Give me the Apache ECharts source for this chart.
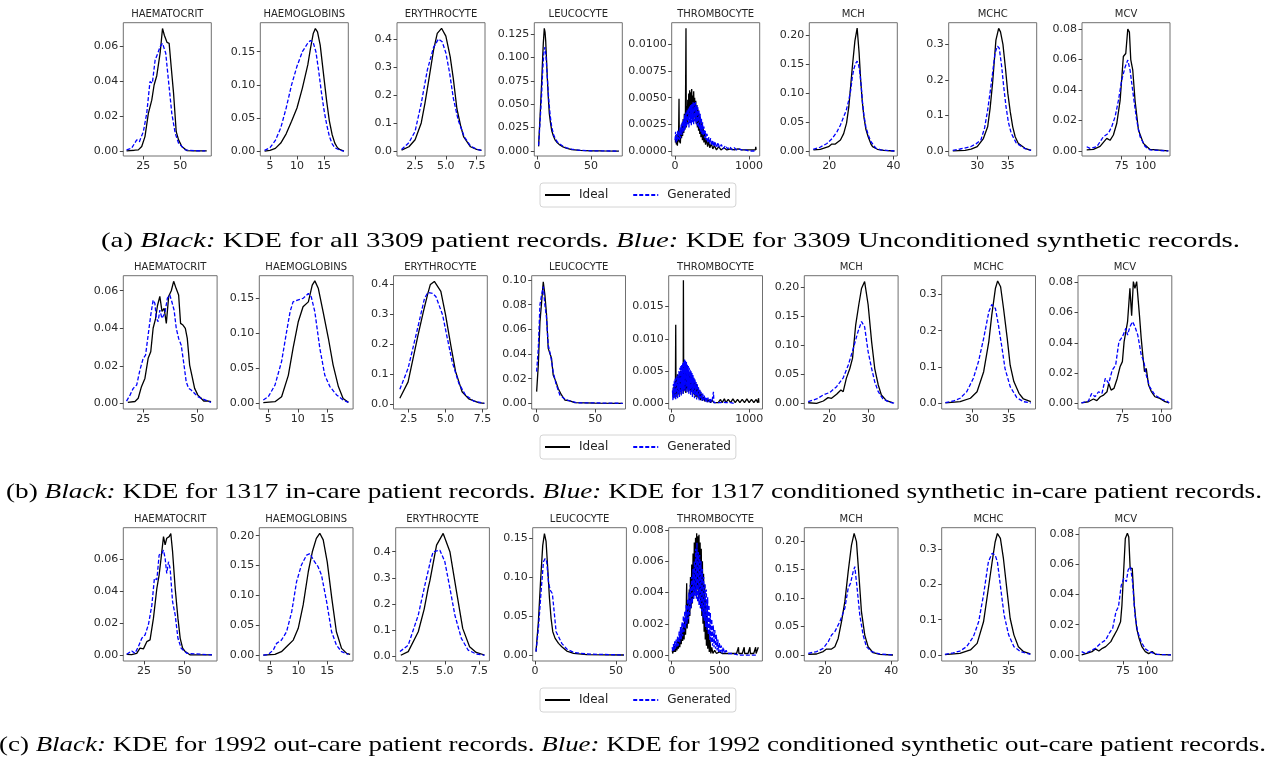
<!DOCTYPE html>
<html>
<head>
<meta charset="utf-8">
<script src="https://cdn.jsdelivr.net/npm/echarts@6/dist/echarts.min.js"></script>
<style>html,body{margin:0;padding:0;background:#fff}#chart{width:1278px;height:757px}</style>
</head>
<body>
<div id="chart"></div>
<script>
// ---------------- DATA ----------------
const titles = ['HAEMATOCRIT','HAEMOGLOBINS','ERYTHROCYTE','LEUCOCYTE','THROMBOCYTE','MCH','MCHC','MCV'];
const seriesNames = ['Ideal','Generated'];
const captionTexts = [
  [['(a) ',0],['Black:',1],[' KDE for all 3309 patient records. ',0],['Blue:',1],[' KDE for 3309 Unconditioned synthetic records.',0]],
  [['(b) ',0],['Black:',1],[' KDE for 1317 in-care patient records. ',0],['Blue:',1],[' KDE for 1317 conditioned synthetic in-care patient records.',0]],
  [['(c) ',0],['Black:',1],[' KDE for 1992 out-care patient records. ',0],['Blue:',1],[' KDE for 1992 conditioned synthetic out-care patient records.',0]]
];
// tick labels per panel
const xTickLabels = [
  [['25','50'],['5','10','15'],['2.5','5.0','7.5'],['0','50'],['0','1000'],['20','40'],['30','35'],['75','100']],
  [['25','50'],['5','10','15'],['2.5','5.0','7.5'],['0','50'],['0','1000'],['20','30'],['30','35'],['75','100']],
  [['25','50'],['5','10','15'],['2.5','5.0','7.5'],['0','50'],['0','500'],['20','40'],['30','35'],['75','100']]
];
const yTickLabels = [
  [['0.00','0.02','0.04','0.06'],['0.00','0.05','0.10','0.15'],['0.0','0.1','0.2','0.3','0.4'],['0.000','0.025','0.050','0.075','0.100','0.125'],['0.0000','0.0025','0.0050','0.0075','0.0100'],['0.00','0.05','0.10','0.15','0.20'],['0.0','0.1','0.2','0.3'],['0.00','0.02','0.04','0.06','0.08']],
  [['0.00','0.02','0.04','0.06'],['0.00','0.05','0.10','0.15'],['0.0','0.1','0.2','0.3','0.4'],['0.00','0.02','0.04','0.06','0.08','0.10'],['0.000','0.005','0.010','0.015'],['0.00','0.05','0.10','0.15','0.20'],['0.0','0.1','0.2','0.3'],['0.00','0.02','0.04','0.06','0.08']],
  [['0.00','0.02','0.04','0.06'],['0.00','0.05','0.10','0.15','0.20'],['0.0','0.1','0.2','0.3','0.4'],['0.00','0.05','0.10','0.15'],['0.000','0.002','0.004','0.006','0.008'],['0.00','0.05','0.10','0.15','0.20'],['0.0','0.1','0.2','0.3'],['0.00','0.02','0.04','0.06','0.08']]
];
// axis extents [xMin, xMax, yMin, yMax]
const axisExtents = [
  [[11.4,71.1,-0.0029,0.0733],[3.21,19.5,-0.0075,0.1938],[1.03,8.18,-0.018,0.458],[-2.8,79.2,-0.0053,0.1371],[-44.8,1143,-0.00047,0.01203],[13.8,41.2,-0.0086,0.2213],[25.33,39.72,-0.0141,0.3609],[33.6,125.3,-0.0033,0.0842]],
  [[15.8,59.2,-0.003,0.068],[3.47,19.4,-0.0081,0.1824],[1.47,7.83,-0.0156,0.429],[-3.6,75.4,-0.0046,0.1035],[-38.8,1172,-0.00088,0.0198],[13.6,37.7,-0.0098,0.2201],[25.9,38.64,-0.0156,0.3514],[46.7,106.5,-0.0037,0.0844]],
  [[12.2,70,-0.0038,0.0796],[3.14,19.5,-0.01,0.2134],[1.43,8.24,-0.019,0.492],[-1.45,56.4,-0.0077,0.1637],[-31.5,951,-0.00038,0.00815],[13.8,42,-0.0105,0.2234],[26.07,38.57,-0.017,0.3604],[30.6,125.3,-0.004,0.0842]]
];

// ---- Row (a) ----
const a1Ideal=[[13.6,0],[16,0.0002],[19,0.0004],[21.6,0.0006],[23.9,0.0025],[26.1,0.0082],[28.4,0.0215],[30.7,0.029],[32.3,0.0377],[33,0.037],[34.1,0.043],[36.4,0.056],[38,0.070],[39.3,0.066],[40.2,0.067],[41.1,0.062],[42.5,0.0615],[43.9,0.048],[45.5,0.033],[47.3,0.011],[48.9,0.0063],[51.1,0.0025],[54.5,0.0002],[60,0],[68,0]];
const a1Gen=[[13.6,0.0006],[17,0.0015],[20.5,0.0063],[22.3,0.0053],[25,0.011],[27.3,0.0215],[29.5,0.0396],[31.1,0.0387],[33,0.052],[34.8,0.0558],[36.4,0.0596],[38,0.0615],[39.3,0.0606],[40.2,0.0558],[42,0.0406],[44.3,0.0215],[46.6,0.0101],[48.9,0.0044],[53.4,0.0006],[60,0.0001],[67,0]];
const a2Ideal=[[4,0],[5,0.001],[6,0.004],[7,0.012],[8,0.026],[9,0.045],[10,0.065],[11,0.095],[12,0.13],[12.5,0.155],[13,0.177],[13.4,0.185],[13.8,0.18],[14.3,0.16],[15,0.11],[15.5,0.075],[16,0.045],[16.5,0.025],[17,0.012],[17.5,0.005],[18,0.002],[18.7,0]];
const a2Gen=[[4,0.001],[5,0.005],[6,0.016],[7,0.035],[8,0.065],[9,0.1],[10,0.128],[11,0.15],[12,0.163],[12.5,0.167],[13,0.164],[13.5,0.15],[14,0.122],[14.5,0.09],[15,0.062],[15.5,0.04],[16,0.022],[16.5,0.011],[17,0.005],[18,0.001],[18.7,0]];
const a3Ideal=[[1.4,0.003],[2,0.015],[2.5,0.04],[3,0.1],[3.3,0.17],[3.6,0.25],[4,0.36],[4.3,0.42],[4.65,0.438],[5,0.41],[5.35,0.337],[5.6,0.26],[5.9,0.15],[6.2,0.09],[6.45,0.05],[7,0.015],[7.5,0.006],[7.9,0.002]];
const a3Gen=[[1.4,0.005],[2,0.03],[2.5,0.07],[3,0.17],[3.5,0.29],[4,0.37],[4.4,0.40],[4.7,0.39],[5,0.35],[5.3,0.28],[5.6,0.19],[6,0.11],[6.5,0.05],[7,0.018],[7.5,0.006],[7.9,0.002]];
const a4Ideal=[[1.2,0.005],[2.5,0.035],[4,0.072],[5,0.1],[5.6,0.115],[6.5,0.131],[7.2,0.127],[7.8,0.118],[8.5,0.1],[9.3,0.079],[10.2,0.058],[11.2,0.04],[12.3,0.03],[13.4,0.022],[15,0.016],[16.5,0.012],[18.5,0.009],[21,0.0064],[24,0.0045],[27,0.003],[32,0.0015],[40,0.0007],[50,0.0002],[60,0.0001],[76,0]];
const a4Gen=[[1.2,0.006],[2.5,0.03],[4,0.06],[5,0.085],[6,0.104],[7.1,0.111],[8,0.103],[9,0.085],[10,0.066],[11,0.05],[12,0.038],[13.4,0.026],[15,0.018],[16.5,0.014],[18.5,0.01],[21,0.0075],[24,0.005],[27,0.0035],[32,0.002],[40,0.0008],[50,0.0003],[60,0.0001],[76,0]];
const a5Ideal=[[5,0.0008],[12,0.0015],[18,0.0006],[25,0.0012],[32,0.0005],[40,0.0018],[47,0.0009],[54,0.0049],[58,0.0008],[65,0.0016],[72,0.0007],[80,0.0021],[88,0.0012],[95,0.0026],[102,0.0014],[110,0.003],[118,0.0017],[126,0.0035],[134,0.002],[141,0.0038],[148,0.0115],[152,0.0022],[158,0.0042],[165,0.0025],[172,0.0048],[178,0.003],[185,0.0054],[192,0.0033],[198,0.0057],[205,0.0036],[212,0.0055],[218,0.0032],[225,0.0058],[232,0.0038],[238,0.0052],[245,0.003],[252,0.0056],[258,0.0035],[265,0.005],[272,0.0028],[280,0.0047],[288,0.0025],[295,0.0043],[302,0.0022],[310,0.0039],[318,0.0019],[326,0.0035],[334,0.0016],[342,0.003],[350,0.0013],[360,0.0026],[370,0.001],[380,0.0021],[390,0.0008],[400,0.0016],[412,0.0006],[425,0.0012],[440,0.0004],[455,0.0009],[470,0.0003],[490,0.0007],[510,0.0002],[530,0.0005],[560,0.0001],[590,0.0004],[620,0.0001],[660,0.0003],[700,0.0001],[750,0.0002],[800,0.0001],[850,0.0002],[900,0.0001],[950,0.0001],[1000,0.0001],[1050,0.0001],[1085,0.0001],[1090,0.0004],[1095,0.0001]];
const a5Gen=[[0,0.001],[8,0.0018],[15,0.0008],[22,0.0016],[30,0.0009],[38,0.002],[45,0.0011],[52,0.0019],[60,0.001],[68,0.0022],[76,0.0012],[84,0.0025],[92,0.0015],[100,0.0028],[108,0.0017],[116,0.003],[124,0.0019],[132,0.0034],[140,0.0021],[148,0.0036],[156,0.0023],[164,0.0039],[172,0.0025],[180,0.004],[188,0.0022],[196,0.0042],[204,0.0026],[212,0.0043],[220,0.0024],[228,0.0044],[236,0.0027],[244,0.0046],[252,0.0025],[260,0.0045],[268,0.0028],[276,0.0046],[284,0.0026],[292,0.0043],[300,0.0024],[308,0.0041],[316,0.0022],[324,0.0038],[332,0.002],[340,0.0035],[348,0.0018],[356,0.0031],[364,0.0016],[372,0.0027],[380,0.0014],[390,0.0023],[400,0.0012],[410,0.0019],[420,0.001],[432,0.0016],[444,0.0008],[456,0.0013],[468,0.0007],[480,0.0012],[495,0.0005],[510,0.001],[525,0.0004],[540,0.0009],[560,0.0003],[580,0.0008],[600,0.0003],[625,0.0006],[650,0.0002],[680,0.0005],[710,0.0002],[740,0.0004],[770,0.0001],[800,0.0003],[830,0.0001],[860,0.0002],[900,0.0001],[950,0.0001],[1000,0],[1050,0],[1100,0]];
const a6Ideal=[[15.1,0.002],[17.2,0.003],[19.8,0.0075],[20.8,0.012],[21.9,0.012],[23.5,0.019],[24.5,0.03],[25.4,0.048],[26.1,0.076],[27.2,0.145],[28,0.19],[28.7,0.212],[29.3,0.17],[29.8,0.122],[30.3,0.085],[30.8,0.059],[31.4,0.038],[32.1,0.025],[33,0.012],[33.5,0.0075],[35,0.003],[37,0.001],[40.3,0]];
const a6Gen=[[15,0.003],[17,0.006],[19.3,0.013],[21,0.022],[22.4,0.033],[23.5,0.045],[24.5,0.059],[25.3,0.07],[26.1,0.088],[26.7,0.105],[27.2,0.128],[27.7,0.142],[28.2,0.151],[28.7,0.155],[29.1,0.15],[29.5,0.137],[30,0.11],[30.3,0.088],[30.8,0.062],[31.4,0.042],[32.2,0.027],[33,0.016],[34.5,0.005],[36,0.002],[40.3,0]];
const a7Ideal=[[26,0.0005],[28,0.002],[29,0.005],[30,0.012],[31,0.035],[31.7,0.068],[32.1,0.12],[32.5,0.19],[33.05,0.312],[33.5,0.345],[33.8,0.335],[34.2,0.30],[34.6,0.235],[35,0.162],[35.4,0.11],[35.8,0.068],[36.2,0.04],[36.7,0.0216],[37.8,0.0075],[38.8,0.002]];
const a7Gen=[[26,0.002],[27.2,0.0056],[28.9,0.012],[29.8,0.02],[30.6,0.031],[31.2,0.065],[31.7,0.115],[32.1,0.165],[32.5,0.218],[32.9,0.275],[33.3,0.295],[33.6,0.289],[34,0.237],[34.3,0.185],[34.7,0.125],[35.1,0.08],[35.55,0.05],[36.4,0.0216],[37.8,0.0066],[38.8,0.002]];
const a8Ideal=[[38.5,0.0007],[45.5,0.001],[52.4,0.003],[59.4,0.0083],[62.8,0.007],[66.3,0.0105],[69.8,0.018],[73.3,0.033],[76.7,0.062],[79.2,0.064],[81.3,0.08],[83,0.078],[84.4,0.06],[86.5,0.053],[88.9,0.033],[92.4,0.0138],[97.6,0.005],[104.5,0.001],[123.6,0]];
const a8Gen=[[38.5,0.0028],[42,0.0017],[49,0.0028],[55.9,0.0094],[61.1,0.0116],[64.6,0.016],[68.1,0.0225],[71.5,0.033],[75,0.0466],[78.5,0.055],[81.3,0.0597],[83.7,0.053],[85.4,0.052],[87.8,0.033],[90.6,0.02],[94.1,0.0094],[99.3,0.003],[104.5,0.0007],[123.6,0]];

// ---- Row (b) ----
const b1Ideal=[[17.9,0.0005],[21.2,0.001],[22.7,0.0027],[24.2,0.0089],[25.8,0.0133],[27.3,0.024],[28.5,0.0275],[29.6,0.04],[30.7,0.045],[31.6,0.052],[32.7,0.057],[33.7,0.049],[34.7,0.0506],[35.7,0.0426],[36.8,0.057],[38,0.06],[39.1,0.065],[40.3,0.061],[41.4,0.0577],[42.3,0.0426],[43.4,0.0417],[44.5,0.04],[45.4,0.0346],[46.5,0.0204],[47.5,0.015],[48.8,0.008],[50.3,0.0044],[51.8,0.0027],[53,0.0012],[54.1,0.0014],[54.9,0.0009],[56.4,0.0009]];
const b1Gen=[[17.3,0.0012],[18.9,0.0044],[20.4,0.008],[22,0.0098],[23.5,0.0178],[25,0.024],[26.1,0.0257],[27.3,0.0364],[28.5,0.047],[29.6,0.055],[30.4,0.0533],[31.1,0.0453],[31.9,0.0435],[32.7,0.0497],[33.7,0.0453],[35,0.048],[36.2,0.056],[37.3,0.0577],[38.3,0.054],[39.3,0.0497],[40.3,0.04],[41.4,0.0346],[42.6,0.031],[43.9,0.0204],[44.9,0.0115],[46,0.008],[47.2,0.0071],[48.8,0.0053],[50.3,0.0036],[52.6,0.0023],[54.9,0.0012],[56.4,0.0005]];
const b2Ideal=[[4.15,0.001],[6.13,0.0024],[7.26,0.0095],[8.4,0.04],[9.2,0.0786],[10.1,0.117],[10.9,0.138],[11.8,0.145],[12.46,0.169],[12.9,0.175],[13.5,0.164],[14.3,0.131],[15.2,0.093],[16,0.055],[16.9,0.024],[17.7,0.007],[18.6,0.0014]];
const b2Gen=[[4.15,0.0048],[5,0.0095],[6.13,0.026],[7.26,0.06],[8.1,0.102],[8.7,0.131],[9.2,0.145],[10.1,0.148],[10.9,0.15],[11.8,0.157],[12.3,0.152],[12.9,0.131],[13.75,0.0786],[14.6,0.04],[15.45,0.024],[16.6,0.012],[17.7,0.0048],[18.6,0.0014]];
const b3Ideal=[[1.9,0.02],[2.46,0.075],[3.13,0.23],[3.5,0.31],[3.8,0.37],[3.97,0.40],[4.24,0.41],[4.68,0.377],[5.0,0.298],[5.35,0.198],[5.68,0.109],[6.12,0.042],[6.57,0.018],[7.23,0.0056],[7.63,0.003]];
const b3Gen=[[1.9,0.05],[2.46,0.12],[3.13,0.259],[3.57,0.353],[3.8,0.373],[4.13,0.37],[4.35,0.359],[4.8,0.298],[5.12,0.22],[5.45,0.142],[5.9,0.07],[6.35,0.031],[6.9,0.011],[7.63,0.003]];
const b4Ideal=[[0.56,0.0095],[1.96,0.031],[3.35,0.066],[4.75,0.082],[6.15,0.0986],[7.5,0.088],[8.9,0.072],[10.3,0.0446],[11.7,0.043],[13.1,0.0365],[14.5,0.023],[16.8,0.0176],[18.7,0.012],[21.5,0.0068],[24.3,0.0027],[28.5,0.0019],[32.7,0.0005],[50,0.0002],[73,0]];
const b4Gen=[[0.56,0.0257],[1.96,0.0446],[3.35,0.08],[4.75,0.088],[6.15,0.0946],[7.5,0.08],[8.9,0.069],[10.3,0.0473],[12.3,0.039],[14.5,0.0257],[16.8,0.016],[20.1,0.0068],[24.3,0.0035],[28.5,0.0019],[34,0.0005],[51,0.0003],[73,0]];
const b5Ideal=[[15,0.001],[22,0.0025],[28,0.0008],[35,0.003],[42,0.0012],[48,0.0035],[52,0.0122],[56,0.0015],[62,0.0038],[68,0.001],[75,0.0045],[82,0.0015],[88,0.0042],[95,0.0012],[102,0.0048],[108,0.0018],[115,0.005],[122,0.0014],[128,0.0046],[135,0.002],[142,0.0052],[148,0.0015],[151,0.0191],[155,0.0018],[162,0.0055],[168,0.002],[175,0.005],[182,0.0016],[190,0.0054],[197,0.0022],[205,0.005],[212,0.0018],[220,0.0048],[228,0.002],[236,0.0046],[244,0.0015],[252,0.0044],[260,0.0018],[268,0.0042],[276,0.0014],[285,0.0038],[294,0.0012],[303,0.0034],[312,0.001],[322,0.003],[332,0.0009],[342,0.0025],[352,0.0007],[362,0.002],[372,0.0005],[385,0.0015],[398,0.0004],[412,0.001],[428,0.0003],[445,0.0008],[462,0.0002],[480,0.0006],[500,0.0001],[520,0.0005],[545,0.0001],[570,0.0004],[600,0.0001],[630,0.0006],[650,0.0001],[680,0.0007],[700,0.0001],[730,0.0006],[760,0.0001],[790,0.0007],[820,0.0001],[850,0.0006],[880,0.0001],[910,0.0006],[940,0.0001],[970,0.0007],[1000,0.0001],[1030,0.0006],[1060,0.0001],[1090,0.0006],[1110,0.0001],[1121,0.0008],[1125,0.0001]];
const b5Gen=[[10,0.002],[16,0.0005],[22,0.003],[28,0.0008],[34,0.0035],[40,0.001],[46,0.0038],[52,0.0006],[58,0.004],[64,0.0012],[70,0.0042],[76,0.0008],[82,0.0045],[88,0.0015],[94,0.005],[100,0.001],[106,0.0055],[112,0.0018],[118,0.0058],[124,0.0012],[130,0.006],[136,0.002],[142,0.0062],[148,0.0015],[154,0.0065],[160,0.0022],[166,0.0068],[172,0.0018],[178,0.0066],[184,0.0025],[190,0.0064],[196,0.0016],[202,0.006],[208,0.0022],[214,0.0058],[220,0.0015],[226,0.0055],[232,0.002],[238,0.0052],[244,0.0012],[250,0.005],[256,0.0018],[262,0.0047],[268,0.001],[274,0.0044],[280,0.0015],[287,0.004],[294,0.0008],[301,0.0037],[308,0.0012],[315,0.0033],[322,0.0006],[330,0.003],[338,0.001],[346,0.0026],[354,0.0005],[362,0.0022],[370,0.0008],[380,0.0018],[390,0.0004],[400,0.0015],[410,0.0005],[420,0.0012],[432,0.0003],[444,0.001],[456,0.0002],[468,0.0009],[480,0.0002],[495,0.0008],[510,0.0001],[525,0.0007],[539,0.0018],[545,0.0001],[560,0.0004],[580,0.0001],[600,0.0003],[630,0.0001],[660,0.0002],[700,0.0001],[760,0.0001],[800,0]];
const b6Ideal=[[14.6,0.001],[16.75,0],[18.5,0.004],[19.7,0.0098],[20.6,0.0086],[21.9,0.0155],[23,0.023],[23.6,0.02],[24.4,0.043],[25.3,0.06],[26,0.078],[26.8,0.135],[27.6,0.17],[28.3,0.198],[29.1,0.21],[30,0.17],[30.9,0.106],[31.7,0.06],[32.6,0.0316],[33.4,0.0144],[34.7,0.0046],[36.4,0.0006]];
const b6Gen=[[14.6,0.0029],[16.75,0.0075],[18.5,0.0144],[20.2,0.019],[21.9,0.0287],[23.6,0.044],[24.9,0.066],[26.2,0.095],[27.4,0.1236],[28.3,0.141],[29.1,0.132],[30,0.089],[30.9,0.06],[31.7,0.037],[32.6,0.02],[33.8,0.0075],[35.6,0.0017],[36.8,0.0002]];
const b7Ideal=[[26.4,0.001],[28.4,0.0046],[29.8,0.014],[30.7,0.032],[31.6,0.087],[32.3,0.17],[32.7,0.243],[33.2,0.317],[33.5,0.337],[33.9,0.321],[34.3,0.261],[34.8,0.179],[35.2,0.105],[35.7,0.06],[36.4,0.0275],[37,0.012],[38,0.0046]];
const b7Gen=[[26.4,0.002],[27.5,0.0064],[28.4,0.014],[29.3,0.032],[30.2,0.069],[30.9,0.115],[31.6,0.179],[32.3,0.252],[32.7,0.272],[33.2,0.261],[33.6,0.216],[34.1,0.151],[34.5,0.096],[35.2,0.046],[36.1,0.0156],[37,0.0046],[38,0.001]];
const b8Ideal=[[48.9,0.0004],[53.3,0.0011],[56.5,0.0029],[58.7,0.0018],[60.9,0.0044],[63,0.0055],[65.2,0.0077],[66.3,0.0132],[67.8,0.0088],[69.6,0.0099],[71.7,0.0165],[73.5,0.0242],[75,0.0276],[76.1,0.0408],[78.3,0.054],[79.8,0.076],[80.9,0.058],[82,0.0805],[83,0.076],[84.1,0.0805],[85.9,0.058],[87,0.043],[88,0.032],[89.1,0.021],[90.2,0.0231],[91.7,0.0121],[93.5,0.0077],[95.7,0.0044],[98.9,0.0033],[102.2,0.0011],[104.8,0.0004]];
const b8Gen=[[48.9,0.0004],[53.3,0.0015],[55.4,0.0066],[57.6,0.0044],[59.8,0.0077],[62,0.0066],[64.1,0.0165],[66.3,0.0132],[68.5,0.022],[70.7,0.0253],[72.8,0.0408],[75,0.044],[77.2,0.0496],[78.3,0.0452],[79.8,0.0507],[81.5,0.054],[83,0.0507],[84.8,0.0452],[87,0.032],[88.7,0.0276],[90.2,0.0187],[92.4,0.011],[95.7,0.0055],[100,0.0029],[103.3,0.0015],[104.8,0.0004]];

// ---- Row (c) ----
const c1Ideal=[[14.3,0.0004],[17.4,0.0002],[20.5,0.001],[22.5,0.0042],[24.6,0.0038],[26.7,0.0083],[28.7,0.0094],[30.8,0.023],[32.9,0.0417],[34.3,0.05],[35.5,0.0604],[37,0.074],[38,0.0688],[39,0.073],[40.5,0.074],[41.5,0.076],[42.6,0.0646],[44.2,0.0417],[45.9,0.023],[47.3,0.0104],[48.8,0.0042],[50.4,0.0021],[53.5,0],[66.9,0]];
const c1Gen=[[14.3,0.0004],[17.4,0.0025],[19.4,0.001],[21.5,0.0052],[23.6,0.0104],[25.6,0.0125],[27.7,0.019],[29.8,0.031],[31.4,0.048],[32.9,0.047],[34.3,0.0625],[36,0.0635],[37,0.0656],[38,0.0604],[39,0.051],[40.1,0.0583],[41.1,0.054],[42.6,0.0333],[44.2,0.025],[45.9,0.0104],[47.9,0.0042],[51.4,0.001],[66.9,0]];
const c2Ideal=[[3.84,0],[5.87,0.001],[7,0.0056],[8.2,0.0168],[9.07,0.025],[9.94,0.0447],[10.8,0.084],[11.7,0.14],[12.4,0.173],[13.1,0.1955],[13.7,0.204],[14.3,0.193],[15,0.156],[15.8,0.095],[16.6,0.039],[17.5,0.0112],[18.4,0.0028],[19,0.001]];
const c2Gen=[[3.84,0],[4.7,0.001],[5.58,0.0084],[6.16,0.0196],[7,0.025],[7.9,0.039],[8.8,0.0726],[9.65,0.123],[10.5,0.151],[11.4,0.1676],[12,0.17],[12.6,0.159],[13.4,0.148],[14,0.134],[14.9,0.089],[15.76,0.039],[16.6,0.0168],[17.5,0.0056],[18.7,0.001]];
const c3Ideal=[[1.8,0.003],[2.34,0.017],[3.07,0.093],[3.5,0.18],[3.79,0.26],[3.92,0.29],[4.4,0.425],[4.88,0.47],[5.37,0.4],[5.85,0.247],[6.3,0.106],[6.8,0.036],[7.28,0.014],[7.88,0.004]];
const c3Gen=[[1.74,0.017],[2.34,0.042],[3.07,0.157],[3.55,0.272],[4.0,0.374],[4.16,0.4],[4.64,0.406],[5.0,0.362],[5.37,0.26],[5.73,0.157],[6.2,0.068],[6.69,0.023],[7.28,0.008],[7.88,0.003]];
const c4Ideal=[[0.6,0.0043],[2.07,0.043],[3.5,0.0986],[4.75,0.141],[5.8,0.156],[6.8,0.146],[7.85,0.111],[8.9,0.0729],[9.9,0.047],[10.95,0.03],[12.4,0.0214],[14.5,0.015],[16.5,0.0107],[19.6,0.0051],[23.8,0.0021],[32,0.0004],[54.8,0]];
const c4Gen=[[0.6,0.0043],[2.07,0.034],[3.7,0.081],[5.2,0.12],[6.2,0.124],[7.2,0.12],[8.3,0.094],[9.3,0.0836],[10.7,0.079],[11.8,0.0557],[13,0.03],[14.5,0.0236],[16.5,0.015],[19.6,0.0077],[23.8,0.0034],[32,0.0013],[54.8,0]];
const c5Ideal=[[5,0.0003],[12,0.0001],[18,0.0005],[25,0.0002],[32,0.0006],[40,0.0002],[47,0.0007],[55,0.0003],[62,0.0009],[70,0.0004],[78,0.0011],[85,0.0005],[92,0.0014],[100,0.0007],[108,0.0017],[115,0.0009],[122,0.002],[130,0.001],[137,0.0024],[145,0.0013],[152,0.0028],[157,0.0046],[162,0.0017],[170,0.0035],[177,0.002],[184,0.0042],[190,0.0025],[197,0.005],[204,0.003],[210,0.0058],[217,0.0033],[224,0.0065],[230,0.0036],[237,0.0072],[243,0.004],[250,0.0075],[256,0.0038],[262,0.0078],[268,0.0042],[274,0.0076],[280,0.0035],[286,0.0077],[292,0.0038],[298,0.0072],[304,0.003],[310,0.0068],[316,0.0025],[322,0.006],[328,0.002],[334,0.0052],[340,0.0015],[346,0.0045],[352,0.001],[358,0.0035],[364,0.0006],[370,0.0025],[378,0.0004],[386,0.0016],[394,0.0002],[402,0.001],[410,0.0001],[420,0.0005],[432,0.0001],[450,0.0003],[470,0.0001],[500,0.0002],[530,0.0001],[560,0.0001],[600,0.0001],[640,0.0001],[680,0.0001],[700,0.0005],[705,0.0001],[740,0.0001],[760,0.0005],[765,0.0001],[800,0.0001],[820,0.0005],[825,0.0001],[860,0.0001],[880,0.0005],[885,0.0001],[905,0.0001],[908,0.0005]];
const c5Gen=[[5,0.0005],[12,0.0002],[18,0.0007],[25,0.0003],[32,0.0009],[40,0.0004],[47,0.001],[55,0.0005],[62,0.0012],[70,0.0006],[78,0.0015],[85,0.0008],[92,0.0018],[100,0.001],[108,0.0021],[115,0.0012],[122,0.0025],[130,0.0015],[137,0.0028],[145,0.0017],[152,0.0032],[160,0.002],[167,0.0036],[174,0.0023],[181,0.004],[188,0.0026],[195,0.0045],[202,0.003],[209,0.005],[216,0.0033],[223,0.0055],[230,0.0036],[237,0.006],[244,0.0038],[251,0.0068],[258,0.0036],[265,0.0072],[272,0.0034],[279,0.0066],[286,0.0032],[293,0.0064],[300,0.003],[307,0.006],[314,0.0028],[321,0.0055],[328,0.0024],[335,0.005],[342,0.0022],[349,0.0046],[356,0.0018],[363,0.0042],[370,0.0016],[377,0.0037],[384,0.0013],[391,0.0032],[398,0.001],[405,0.0027],[412,0.0008],[420,0.0023],[428,0.0006],[436,0.0019],[444,0.0005],[452,0.0016],[460,0.0004],[468,0.0013],[476,0.0003],[484,0.001],[492,0.0002],[500,0.0008],[510,0.0002],[520,0.0006],[530,0.0001],[540,0.0005],[555,0.0001],[570,0.0003],[590,0.0001],[610,0.0002],[640,0.0001],[700,0],[900,0]];
const c6Ideal=[[15,0.001],[17.5,0.0018],[19.5,0.006],[20.5,0.0105],[22,0.0105],[23,0.0146],[24,0.029],[25,0.0585],[26,0.0936],[27,0.146],[28,0.193],[28.8,0.2135],[29.5,0.199],[30.3,0.1345],[31,0.076],[32,0.035],[33,0.0146],[34.5,0.004],[36.5,0.0012],[40.5,0]];
const c6Gen=[[15,0.003],[17.5,0.006],[19.5,0.0117],[21,0.0234],[22,0.035],[23,0.041],[24.5,0.0585],[26,0.082],[27,0.117],[27.7,0.1257],[28.5,0.146],[29,0.155],[29.7,0.117],[30.5,0.07],[31.5,0.035],[32.5,0.0146],[34,0.006],[36.5,0.0018],[40.5,0]];
const c7Ideal=[[26.5,0.001],[28.5,0.0047],[29.9,0.0142],[30.8,0.033],[31.65,0.094],[32.3,0.189],[32.8,0.264],[33.2,0.32],[33.5,0.344],[33.9,0.33],[34.3,0.274],[34.8,0.179],[35.2,0.104],[35.7,0.057],[36.3,0.0236],[37,0.0094],[37.9,0.003]];
const c7Gen=[[26.5,0.002],[27.6,0.0057],[28.5,0.0113],[29.4,0.0236],[30.3,0.052],[31,0.094],[31.65,0.17],[32.3,0.264],[32.8,0.288],[33.2,0.283],[33.5,0.264],[34,0.179],[34.4,0.113],[35,0.057],[35.7,0.0236],[36.6,0.0094],[37.9,0.002]];
const c8Ideal=[[33.3,0],[38.5,0.0011],[43.75,0.0022],[47.2,0.004],[50.7,0.0026],[54.2,0.0044],[57.6,0.0055],[59.4,0.0044],[62.8,0.0088],[65.3,0.012],[67,0.011],[69.1,0.0165],[70.8,0.0154],[72.6,0.022],[74,0.033],[75.7,0.055],[77.4,0.077],[79.5,0.0805],[80.9,0.078],[82.3,0.0573],[84.4,0.0573],[86.5,0.033],[88.9,0.0176],[91.3,0.011],[94.1,0.0055],[97.6,0.0022],[101,0.0009],[104.5,0.0022],[108,0.0004],[123.6,0]];
const c8Gen=[[33.3,0.0022],[36.8,0.001],[42,0.0026],[47.2,0.0044],[52.4,0.0077],[57.6,0.0099],[61.1,0.0143],[64.6,0.0176],[68,0.0287],[70.5,0.032],[73.3,0.046],[75.9,0.0507],[78.5,0.0485],[80.2,0.0562],[82.6,0.0584],[84.7,0.0485],[87.2,0.0264],[89.9,0.0154],[93.4,0.0088],[97.6,0.004],[102.8,0.0018],[109.7,0.0004],[123.6,0]];

const panelSeries = [
  [[a1Ideal,a1Gen],[a2Ideal,a2Gen],[a3Ideal,a3Gen],[a4Ideal,a4Gen],[a5Ideal,a5Gen],[a6Ideal,a6Gen],[a7Ideal,a7Gen],[a8Ideal,a8Gen]],
  [[b1Ideal,b1Gen],[b2Ideal,b2Gen],[b3Ideal,b3Gen],[b4Ideal,b4Gen],[b5Ideal,b5Gen],[b6Ideal,b6Gen],[b7Ideal,b7Gen],[b8Ideal,b8Gen]],
  [[c1Ideal,c1Gen],[c2Ideal,c2Gen],[c3Ideal,c3Gen],[c4Ideal,c4Gen],[c5Ideal,c5Gen],[c6Ideal,c6Gen],[c7Ideal,c7Gen],[c8Ideal,c8Gen]]
];

// ---------------- LAYOUT ----------------
const rowTop = [22.7, 275.7, 527.7];
const boxH = 133.3;
const boxLeft = [
  [123.3, 260.3, 397, 534.3, 671.7, 809.3, 948.7, 1082],
  [123.3, 259.3, 393.5, 531.7, 668.7, 804.3, 941.7, 1078],
  [123.3, 259.3, 395.7, 532.7, 668.7, 804.3, 941.7, 1079]
];
const boxW = [88, 93.8, 93.7];
const legendTop = [183, 435, 688];
const legendLeft = 540;
const captionLayout = [[101, 1240, 241], [6, 1262, 492], [-1, 1266, 745]];
const CAP_FS = 21;

// ---------------- BUILD ----------------
function fmt(labels) {
  return function (v) {
    for (const l of labels) if (Math.abs(parseFloat(l) - v) < 1e-9) return l;
    return '';
  };
}
const grids = [], xAxes = [], yAxes = [], series = [], graphics = [];
const tickFont = {fontFamily: 'DejaVu Sans', fontSize: 11, color: '#2a2a2a'};
for (let r = 0; r < 3; r++) {
  for (let c = 0; c < 8; c++) {
    const i = r * 8 + c;
    const L = boxLeft[r][c], T = rowTop[r], W = boxW[r];
    const ext = axisExtents[r][c];
    const xl = xTickLabels[r][c], yl = yTickLabels[r][c];
    const xv = xl.map(parseFloat), yv = yl.map(parseFloat);
    grids.push({left: L, top: T, width: W, height: boxH, show: true, borderColor: '#707070', borderWidth: 1, backgroundColor: 'transparent'});
    xAxes.push({gridIndex: i, type: 'value', min: ext[0], max: ext[1],
      axisLine: {show: false, onZero: false}, splitLine: {show: false},
      axisTick: {show: true, inside: false, length: 3.5, lineStyle: {color: '#444', width: 1}, customValues: xv},
      axisLabel: Object.assign({customValues: xv, formatter: fmt(xl), margin: 5, hideOverlap: false}, tickFont)});
    yAxes.push({gridIndex: i, type: 'value', min: ext[2], max: ext[3],
      axisLine: {show: false, onZero: false}, splitLine: {show: false},
      axisTick: {show: true, inside: false, length: 3.5, lineStyle: {color: '#444', width: 1}, customValues: yv},
      axisLabel: Object.assign({customValues: yv, formatter: fmt(yl), margin: 5, hideOverlap: false}, tickFont)});
    const [ideal, gen] = panelSeries[r][c];
    series.push({type: 'line', name: seriesNames[0], xAxisIndex: i, yAxisIndex: i, data: ideal,
      symbol: 'none', showSymbol: false, silent: true, clip: true,
      lineStyle: {color: '#000', width: 1.3}, itemStyle: {color: '#000'}});
    series.push({type: 'line', name: seriesNames[1], xAxisIndex: i, yAxisIndex: i, data: gen,
      symbol: 'none', showSymbol: false, silent: true, clip: true,
      lineStyle: {color: '#0000ff', width: 1.3, type: [4, 2]}, itemStyle: {color: '#0000ff'}});
    graphics.push({type: 'text', x: L + W / 2, y: T - 8.5, silent: true,
      style: {text: titles[c], fontFamily: 'DejaVu Sans', fontSize: 10, fill: '#262626',
        align: 'center', verticalAlign: 'middle', textAlign: 'center', textVerticalAlign: 'middle'}});
  }
}
// captions (scaled horizontally to the measured span)
const mctx = document.createElement('canvas').getContext('2d');
function measure(t, it) { mctx.font = (it ? 'italic ' : '') + CAP_FS + 'px "Liberation Serif"'; return mctx.measureText(t).width; }
captionTexts.forEach((segs, r) => {
  const [x0, x1, cy] = captionLayout[r];
  const total = segs.reduce((s, [t, it]) => s + measure(t, it), 0);
  const sc = (x1 - x0) / total;
  let cum = 0;
  segs.forEach(([t, it]) => {
    graphics.push({type: 'text', x: x0 + cum * sc, y: cy, scaleX: sc, silent: true,
      style: {text: t, fontFamily: '"Liberation Serif"', fontSize: CAP_FS, fontStyle: it ? 'italic' : 'normal',
        fill: '#000', align: 'left', verticalAlign: 'middle', textAlign: 'left', textVerticalAlign: 'middle'}});
    cum += measure(t, it);
  });
});

const legends = legendTop.map(t => ({
  data: seriesNames, left: legendLeft, top: t, orient: 'horizontal',
  itemWidth: 25, itemHeight: 12, itemGap: 24, padding: [6, 5, 6, 4],
  borderColor: '#d4d4d4', borderWidth: 1, borderRadius: 3, backgroundColor: '#fff',
  selectedMode: false,
  itemStyle: {opacity: 0},
  textStyle: {fontFamily: 'DejaVu Sans', fontSize: 12, color: '#222', padding: [0, 0, 0, 4]}
}));

const chart = echarts.init(document.getElementById('chart'), null, {renderer: 'canvas', width: 1278, height: 757});
chart.setOption({
  animation: false,
  backgroundColor: '#ffffff',
  grid: grids, xAxis: xAxes, yAxis: yAxes, series: series,
  legend: legends, graphic: {elements: graphics}
});
</script>
</body>
</html>
